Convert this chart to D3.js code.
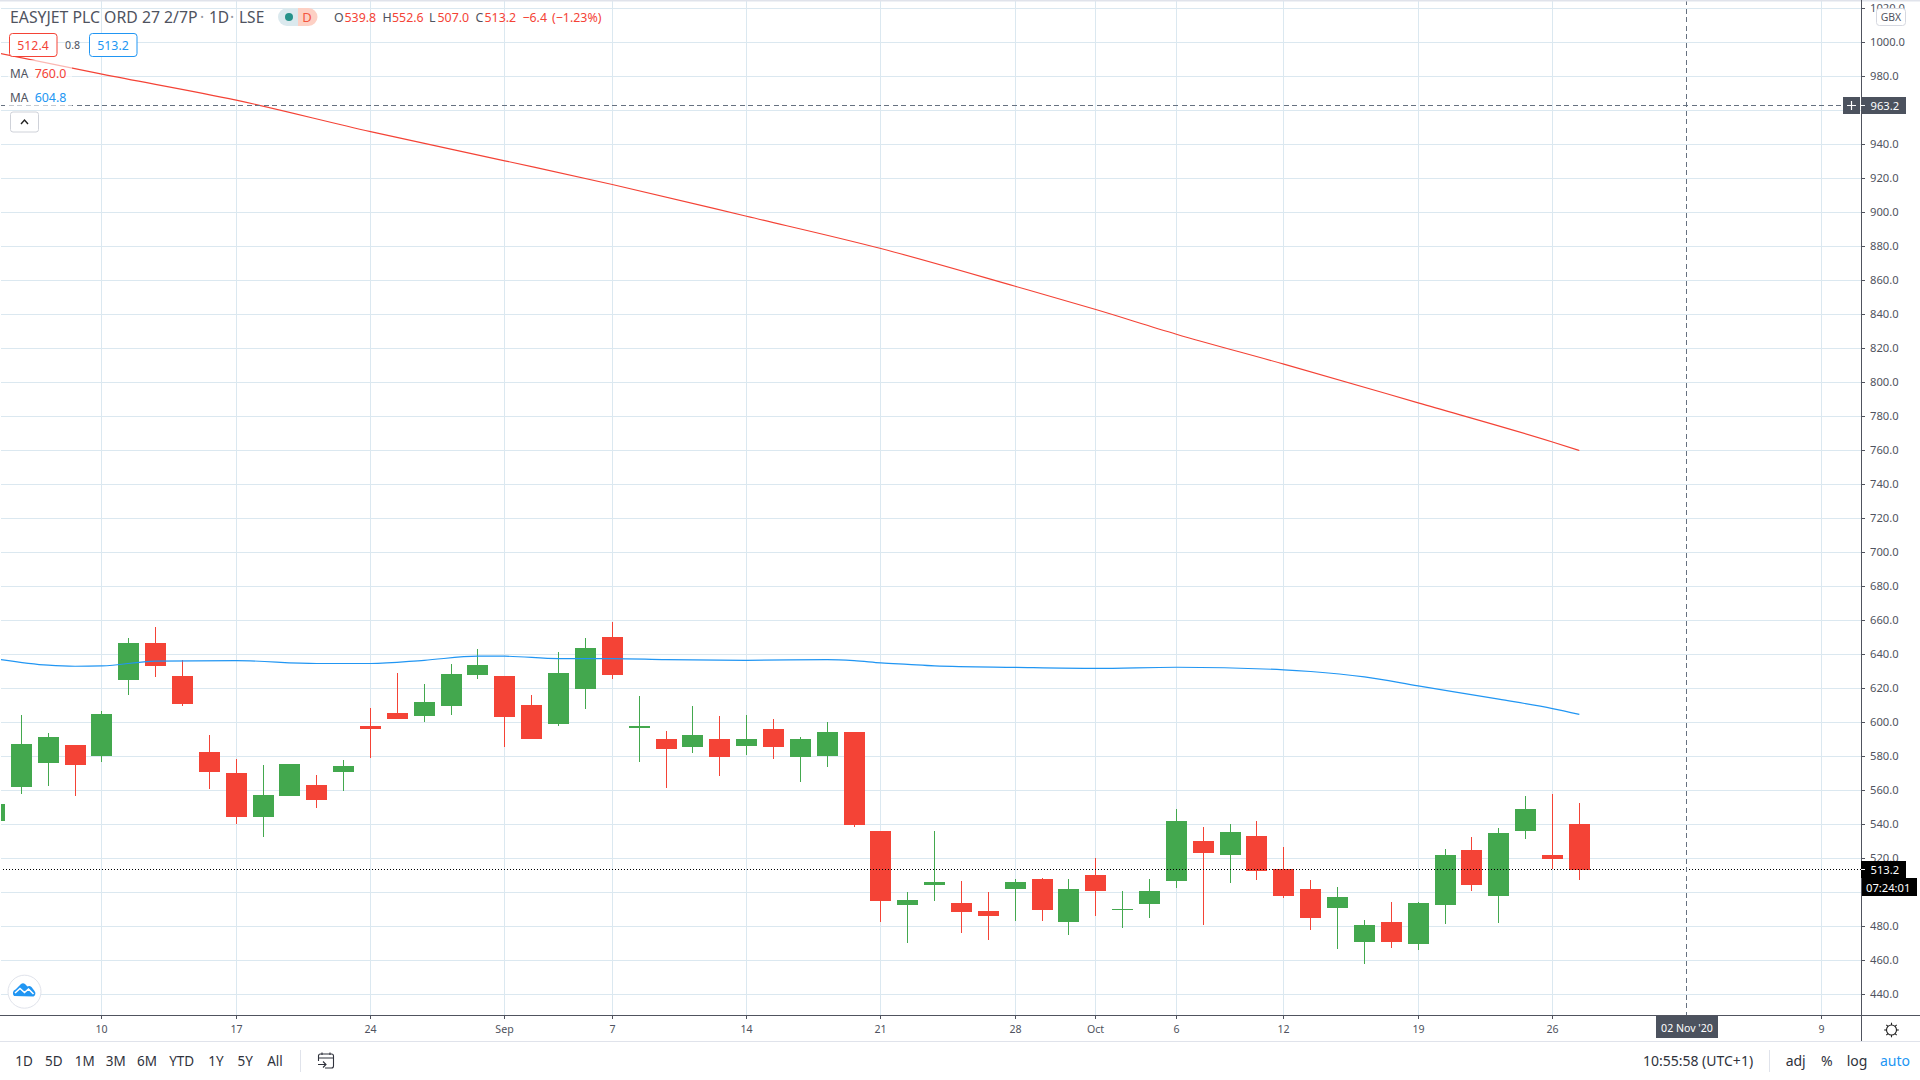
<!DOCTYPE html>
<html><head><meta charset="utf-8">
<script src="https://cdn.jsdelivr.net/npm/d3@7"></script>
<style>
html,body{margin:0;padding:0;background:#fff;overflow:hidden}
svg{display:block}
text{font-family:"Noto Sans","Open Sans",sans-serif}
</style></head><body>
<script>
// ---- data ----
const firstIndex = -1;
const opens  = [542,561.9,576.0,586.6,580.2,624.9,646.6,627.2,582.5,570.2,544.3,556.6,563.1,570.8,597.8,605.5,603.7,609.6,627.8,627.2,610.2,599.0,619.6,650.2,596.6,590.2,585.5,590.2,586.0,596.1,579.6,580.2,594.3,536.1,492.5,504.3,493.7,489.0,501.9,507.8,482.5,510.2,489.6,493.1,506.6,530.2,521.9,533.1,513.7,501.9,490.8,470.8,482.5,469.6,492.5,524.9,497.8,536.1,521.9,539.8];
const highs  = [553,604.3,593.7,586.6,606.6,649.6,656.1,636.6,592.5,578.4,574.9,575.5,569.0,577.8,608.4,629.0,622.5,634.3,643.1,627.2,616.1,641.3,649.6,659.0,615.5,594.9,609.6,603.7,604.3,601.9,591.3,600.2,594.3,536.1,500.2,536.1,506.6,500.2,507.8,508.4,507.8,520.2,500.8,507.8,549.0,538.4,540.2,542.0,526.6,507.2,503.1,483.7,494.3,494.3,525.5,532.5,537.8,556.6,557.8,552.6];
const lows   = [541,557.8,562.5,556.6,576.6,616.1,626.6,609.6,560.8,540.2,532.5,556.6,549.6,559.6,579.0,601.9,600.2,604.3,625.5,585.5,590.2,597.8,607.8,625.5,576.6,561.3,581.9,568.4,580.8,578.4,564.9,573.7,538.4,482.5,470.2,494.9,476.1,472.0,483.1,483.1,474.9,486.1,479.0,484.9,502.5,480.8,505.5,507.2,496.6,477.8,466.6,457.8,467.2,466.1,481.4,500.8,481.9,531.4,513.7,507.0];
const closes = [552,587.2,591.3,574.9,604.9,646.6,633.1,610.8,570.8,544.3,557.2,575.5,554.3,574.3,596.1,601.9,611.9,628.4,633.7,603.1,590.2,629.0,643.7,627.8,597.8,584.3,592.5,579.6,590.2,585.5,590.2,594.3,539.6,494.9,495.5,506.1,488.4,486.1,506.1,489.6,501.9,500.8,490.2,500.8,542.0,523.1,535.5,512.5,497.8,485.0,497.2,480.8,470.8,493.7,521.9,504.3,534.9,549.0,519.6,513.2];

const ma200Index  = [-1,3,8,13,18,22,27,32,37,40,43,47,52,57,58];
const ma200Values = [994.2,981.4,966.1,947.6,930.4,916.5,897.8,878.8,856.6,842.9,828.4,810.8,788.0,765.0,760.0];
const ma50Index   = [-1,1,2,3,5,8,11,13,15,17,18,20,22,24,27,30,31,32,33,34,37,40,43,47,48,50,52,55,57,58];
const ma50Values  = [637.6,633.7,633.1,633.3,636.1,636.4,634.7,634.7,636.6,639.0,639.0,637.6,637.6,637.0,636.6,637.0,636.4,635.1,634.2,633.3,632.4,631.8,632.5,631.0,630.0,626.8,621.5,613.7,608.2,604.8];

const priceTicks = d3.range(440,1021,20);
const timeTickIndex = [3,8,13,18,22,27,32,37,40,43,47,52,57,67];
const timeTickLabels = ["10","17","24","Sep","7","14","21","28","Oct","6","12","19","26","9"];
const rangeButtons = ["1D","5D","1M","3M","6M","YTD","1Y","5Y","All"];

const lastClose = 513.2, crossPrice = 963.2, crossIndex = 62;

// ---- scales ----
const x = d3.scaleLinear().domain([0,67]).range([20.8,1820.6]).interpolate(d3.interpolateRound);
const y = d3.scaleLinear().domain([440,1000]).range([994,42]).interpolate(d3.interpolateRound);
const yLine = y.copy().interpolate(d3.interpolateNumber);
const xLine = x.copy().interpolate(d3.interpolateNumber);

const W=1920,H=1080,axisX=1861,axisY=1015,paneBottom=1041;
const GREEN="#43a84e",RED="#f44336",BLUE="#2196f3",GRID="#dbe8f0",AXIS="#50535e",TXT="#4f5360",DARK="#4c525e";

const svg=d3.select("body").append("svg").attr("width",W).attr("height",H).attr("viewBox",`0 0 ${W} ${H}`);
svg.append("rect").attr("width",W).attr("height",H).attr("fill","#fff");
const defs=svg.append("defs");
defs.append("clipPath").attr("id","pane").append("rect").attr("x",1).attr("y",0).attr("width",axisX-1).attr("height",axisY);

const pane=svg.append("g").attr("clip-path","url(#pane)");

// grid
pane.append("g").attr("shape-rendering","crispEdges").selectAll("line").data(priceTicks).join("line")
  .attr("x1",1).attr("x2",axisX).attr("y1",d=>y(d)+.5).attr("y2",d=>y(d)+.5).attr("stroke",GRID);
pane.append("g").attr("shape-rendering","crispEdges").selectAll("line").data(timeTickIndex).join("line")
  .attr("x1",d=>x(d)+.5).attr("x2",d=>x(d)+.5).attr("y1",0).attr("y2",axisY).attr("stroke",GRID);

// candles
const candles=opens.map((o,i)=>({i:i+firstIndex,o,h:highs[i],l:lows[i],c:closes[i]}));
const cg=pane.append("g").attr("shape-rendering","crispEdges");
cg.selectAll("rect.w").data(candles).join("rect").attr("class","w")
  .attr("x",d=>x(d.i)).attr("width",1)
  .attr("y",d=>y(d.h)).attr("height",d=>Math.max(1,y(d.l)-y(d.h)))
  .attr("fill",d=>d.c>=d.o?GREEN:RED);
cg.selectAll("rect.b").data(candles).join("rect").attr("class","b")
  .attr("x",d=>x(d.i)-10).attr("width",21)
  .attr("y",d=>y(Math.max(d.o,d.c))).attr("height",d=>Math.max(1,y(Math.min(d.o,d.c))-y(Math.max(d.o,d.c))))
  .attr("fill",d=>d.c>=d.o?GREEN:RED);

// moving averages
const line=d3.line().x(d=>xLine(d[0])+.5).y(d=>yLine(d[1])+.5).curve(d3.curveMonotoneX);
pane.append("path").attr("d",line(ma200Index.map((k,i)=>[k,ma200Values[i]]))).attr("fill","none").attr("stroke","#f44336").attr("stroke-width",1.15);
pane.append("path").attr("d",line(ma50Index.map((k,i)=>[k,ma50Values[i]]))).attr("fill","none").attr("stroke",BLUE).attr("stroke-width",1.2);

// last price dotted line
const lastY=Math.floor(yLine(lastClose));
pane.append("line").attr("x1",0).attr("x2",axisX).attr("y1",lastY+.5).attr("y2",lastY+.5)
  .attr("stroke","#000").attr("stroke-dasharray","1 2").attr("shape-rendering","crispEdges");
// crosshair
pane.append("line").attr("x1",x(crossIndex)+.5).attr("x2",x(crossIndex)+.5).attr("y1",0).attr("y2",axisY)
  .attr("stroke","#667180").attr("stroke-dasharray","5 3.5").attr("shape-rendering","crispEdges");
pane.append("line").attr("x1",0).attr("x2",1843).attr("y1",y(crossPrice)+.5).attr("y2",y(crossPrice)+.5)
  .attr("stroke","#667180").attr("stroke-dasharray","5 3.5").attr("shape-rendering","crispEdges");

// top hairline
svg.append("rect").attr("x",0).attr("y",0).attr("width",W).attr("height",1.5).attr("fill","#e0e3eb");

// axes
const yAxis=d3.axisRight(y).tickValues(priceTicks).tickSize(4).tickPadding(5).tickFormat(d3.format(".1f"));
const gy=svg.append("g").attr("transform",`translate(${axisX},0)`).call(yAxis);
gy.select(".domain").remove();
gy.selectAll("line").attr("stroke",AXIS);
gy.selectAll("text").attr("fill",TXT).style("font-size","11.2px").style("font-family",'"Noto Sans"');

const xAxis=d3.axisBottom(x).tickValues(timeTickIndex).tickSize(4).tickPadding(6).tickFormat((d,i)=>timeTickLabels[i]);
const gx=svg.append("g").attr("transform",`translate(0,${axisY})`).call(xAxis);
gx.select(".domain").remove();
gx.selectAll("line").attr("stroke",AXIS);
gx.selectAll("text").attr("fill",TXT).style("font-size","10.6px").style("font-family",'"Noto Sans"');

const chrome=svg.append("g").attr("shape-rendering","crispEdges");
chrome.append("rect").attr("x",0).attr("y",axisY).attr("width",W).attr("height",1).attr("fill",AXIS);
chrome.append("rect").attr("x",axisX).attr("y",0).attr("width",1).attr("height",paneBottom).attr("fill",AXIS);
chrome.append("rect").attr("x",0).attr("y",paneBottom).attr("width",W).attr("height",1).attr("fill","#e0e3eb");

function T(s,px,py,o={}){
  return svg.append("text").attr("x",px).attr("y",py).text(s)
    .attr("fill",o.fill||TXT).style("font-size",(o.size||14)+"px")
    .attr("text-anchor",o.anchor||"start").attr("font-weight",o.weight||400);
}

// price tags
function tag(px,py,w,h,fill){return svg.append("rect").attr("x",px).attr("y",py).attr("width",w).attr("height",h).attr("fill",fill).attr("shape-rendering","crispEdges");}
const crossY=y(crossPrice);
tag(axisX+1,crossY-8,44,17,DARK);
T(d3.format(".1f")(crossPrice),1870.5,crossY+4.5,{fill:"#fff",size:11.2});
svg.append("line").attr("x1",axisX).attr("x2",axisX+4).attr("y1",crossY+.5).attr("y2",crossY+.5).attr("stroke","#fff");
tag(1843,crossY-8,17,17,DARK);
svg.append("path").attr("d",`M1847 ${crossY+.5}H1856M1851.5 ${crossY-4}V${crossY+5}`).attr("stroke","#fff").attr("stroke-width",1.2);

tag(axisX,lastY-8,45,17,"#000");
T(d3.format(".1f")(lastClose),1870.5,lastY+4.5,{fill:"#fff",size:11.2});
svg.append("line").attr("x1",axisX).attr("x2",axisX+4).attr("y1",lastY+.5).attr("y2",lastY+.5).attr("stroke","#fff");
tag(axisX+1,lastY+9,55,18,"#000");
T("07:24:01",1866,lastY+22.5,{fill:"#fff",size:11.2});

tag(1656,axisY+1,62,22,DARK);
T("02 Nov '20",1687,1031.5,{fill:"#fff",size:10.6,anchor:"middle"});

// currency box
svg.append("rect").attr("x",1876.5).attr("y",8.5).attr("width",29).attr("height",17).attr("rx",3).attr("fill","#fff").attr("stroke","#d6d8e0");
T("GBX",1891,21,{size:10.4,anchor:"middle"});

// legend backdrop
svg.append("rect").attr("x",8).attr("y",60).attr("width",64).attr("height",48).attr("fill","#fff").attr("opacity",.62);

// header
T("EASYJET PLC ORD 27 2/7P",10,23,{size:15.8});
T("·",200,23,{size:15.5,fill:"#9598a1"});
T("1D",209,23,{size:15.5});
T("·",230,23,{size:15.5,fill:"#9598a1"});
T("LSE",239,23,{size:15.5});
svg.append("path").attr("d","M287 8H298V26H287A9 9 0 0 1 287 8Z").attr("fill","#dbe9ee");
svg.append("path").attr("d","M298 8H308.5A9 9 0 0 1 308.5 26H298Z").attr("fill","#fdd0c4");
svg.append("circle").attr("cx",289).attr("cy",17).attr("r",4).attr("fill","#26928a");
T("D",307,22,{size:13,fill:"#f4553f",anchor:"middle"});

const ohlcLabels=[["O",334,TXT],["539.8",344.5,RED],["H",382.4,TXT],["552.6",392,RED],["L",429,TXT],["507.0",437.5,RED],["C",475.5,TXT],["513.2",484.5,RED],["−6.4",522.4,RED],["(−1.23%)",552,RED]];
ohlcLabels.forEach(d=>T(d[0],d[1],22,{size:12.4,fill:d[2]}));

svg.append("rect").attr("x",9.5).attr("y",33.5).attr("width",47.5).attr("height",23).attr("rx",3).attr("fill","#fff").attr("stroke",RED);
T("512.4",33,49.5,{size:12.3,fill:RED,anchor:"middle"});
T("0.8",72.6,49,{size:10.6,anchor:"middle"});
svg.append("rect").attr("x",89.5).attr("y",33.5).attr("width",47.5).attr("height",23).attr("rx",3).attr("fill","#fff").attr("stroke",BLUE);
T("513.2",113,49.5,{size:12.3,fill:BLUE,anchor:"middle"});

T("MA",10,78,{size:11.8});
T("760.0",34.7,78,{size:12.4,fill:RED});
T("MA",10,102,{size:11.8});
T("604.8",34.7,102,{size:12.4,fill:BLUE});

svg.append("rect").attr("x",10.5).attr("y",112).attr("width",28).attr("height",20).attr("rx",2.5).attr("fill","#fff").attr("stroke","#cfd2d9");
svg.append("path").attr("d","M21 124L24.5 120L28 124").attr("fill","none").attr("stroke","#222").attr("stroke-width",1.4);

// logo badge
svg.append("circle").attr("cx",24.5).attr("cy",991.7).attr("r",16.5).attr("fill","#fff").attr("stroke","#e0e3eb");
svg.append("path").attr("d","M14 996a4 4 0 0 1 1.5-6.5l5.5-5.5q2 -1.5 4 0l2.5 2.5q2-1 4 .5l3 4a3.5 3.5 0 0 1-1 5.5Z").attr("fill",BLUE);
svg.append("path").attr("d","M15 993l5-4.5 4.5 4 4-3.5 5 5").attr("fill","none").attr("stroke","#fff").attr("stroke-width",1.6);

// bottom toolbar
const rangeCenters=[24,53.7,84.7,115.7,147,181.7,216,245.3,275];
rangeButtons.forEach((b,i)=>T(b,rangeCenters[i],1065.5,{size:13.5,anchor:"middle",fill:"#2f323c"}));
svg.append("rect").attr("x",300).attr("y",1050).attr("width",1).attr("height",22).attr("fill","#e0e3eb");
svg.append("rect").attr("x",1769).attr("y",1050).attr("width",1).attr("height",22).attr("fill","#e0e3eb");
const cal=svg.append("g").attr("fill","none").attr("stroke","#2f323c").attr("stroke-width",1.1);
cal.append("path").attr("d","M318.5 1061V1056a2 2 0 0 1 2-2H331.5a2 2 0 0 1 2 2V1066a2 2 0 0 1-2 2H325M318.5 1058H333.5M322 1052.5V1055M330 1052.5V1055M318 1064.5H326M323 1061.5L326 1064.5L323 1067.5");

T("10:55:58 (UTC+1)",1698,1065.5,{size:14,anchor:"middle",fill:"#2f323c"});
[["adj",1795.7,"#2f323c"],["%",1826.7,"#2f323c"],["log",1857,"#2f323c"],["auto",1895,BLUE]].forEach(d=>T(d[0],d[1],1065.5,{size:14,anchor:"middle",fill:d[2]}));

// gear
const gear=svg.append("g").attr("transform","translate(1891.5,1030)").attr("fill","none").attr("stroke","#222").attr("stroke-width",1.1);
gear.append("circle").attr("r",5);
d3.range(8).forEach(k=>{const a=k*Math.PI/4;gear.append("line").attr("x1",5*Math.cos(a)).attr("y1",5*Math.sin(a)).attr("x2",7.3*Math.cos(a)).attr("y2",7.3*Math.sin(a));});
</script>
</body></html>
